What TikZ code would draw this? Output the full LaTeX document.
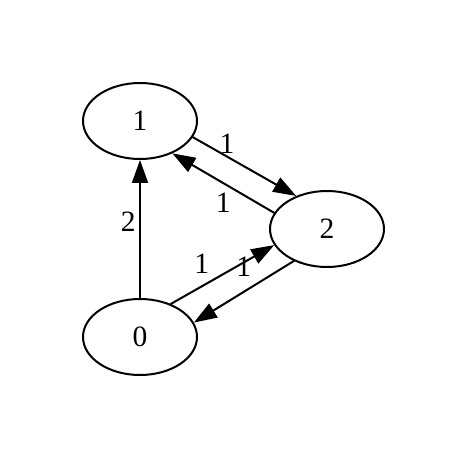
\documentclass[tikz,border=0pt]{standalone}
\usepackage{fontspec}
\setmainfont{Liberation Serif}
\usetikzlibrary{arrows.meta,shapes.geometric}
\tikzset{>={Triangle[length=11.5pt,width=8pt]},
every picture/.append style={
    line join=round,
    line cap=round,
    line width=1pt
  },
  vertex/.style={draw,ellipse,minimum width=57pt,minimum height=38pt,inner sep=0pt,
    font=\fontsize{14.75}{17}\selectfont},
  weight/.style={inner sep=0pt,font=\fontsize{14.75}{17}\selectfont}}

\begin{document}
\begin{tikzpicture}[x=0.5pt,y=-0.5pt]
        \useasboundingbox (0,0) rectangle (466,458);
        \node [vertex] (v1) at (140,121) {1};
        \node [vertex] (v2) at (327,229) {2};
        \node [vertex] (v0) at (140,337) {0};
        \draw [->] (v0.north) -- node [weight,pos=.55,left=1.75pt] (w01) {2} (v1.south);
        \draw [->] (v1.-17) -- node [weight,pos=.33,above=1pt] (w12) {1} (v2.133);
        \draw [->] (v2.163) -- node [weight,pos=.5,below=4.5pt] (w21) {1} (v1.-45);
        \draw [->] (v0.47) -- node [weight,pos=.3,above=6pt] (w02) {1} (v2.197);
        \draw [->] (v2.224) -- node [weight,pos=.5,above=7pt] (w20) {1} (v0.15);
    \end{tikzpicture}
\end{document}
